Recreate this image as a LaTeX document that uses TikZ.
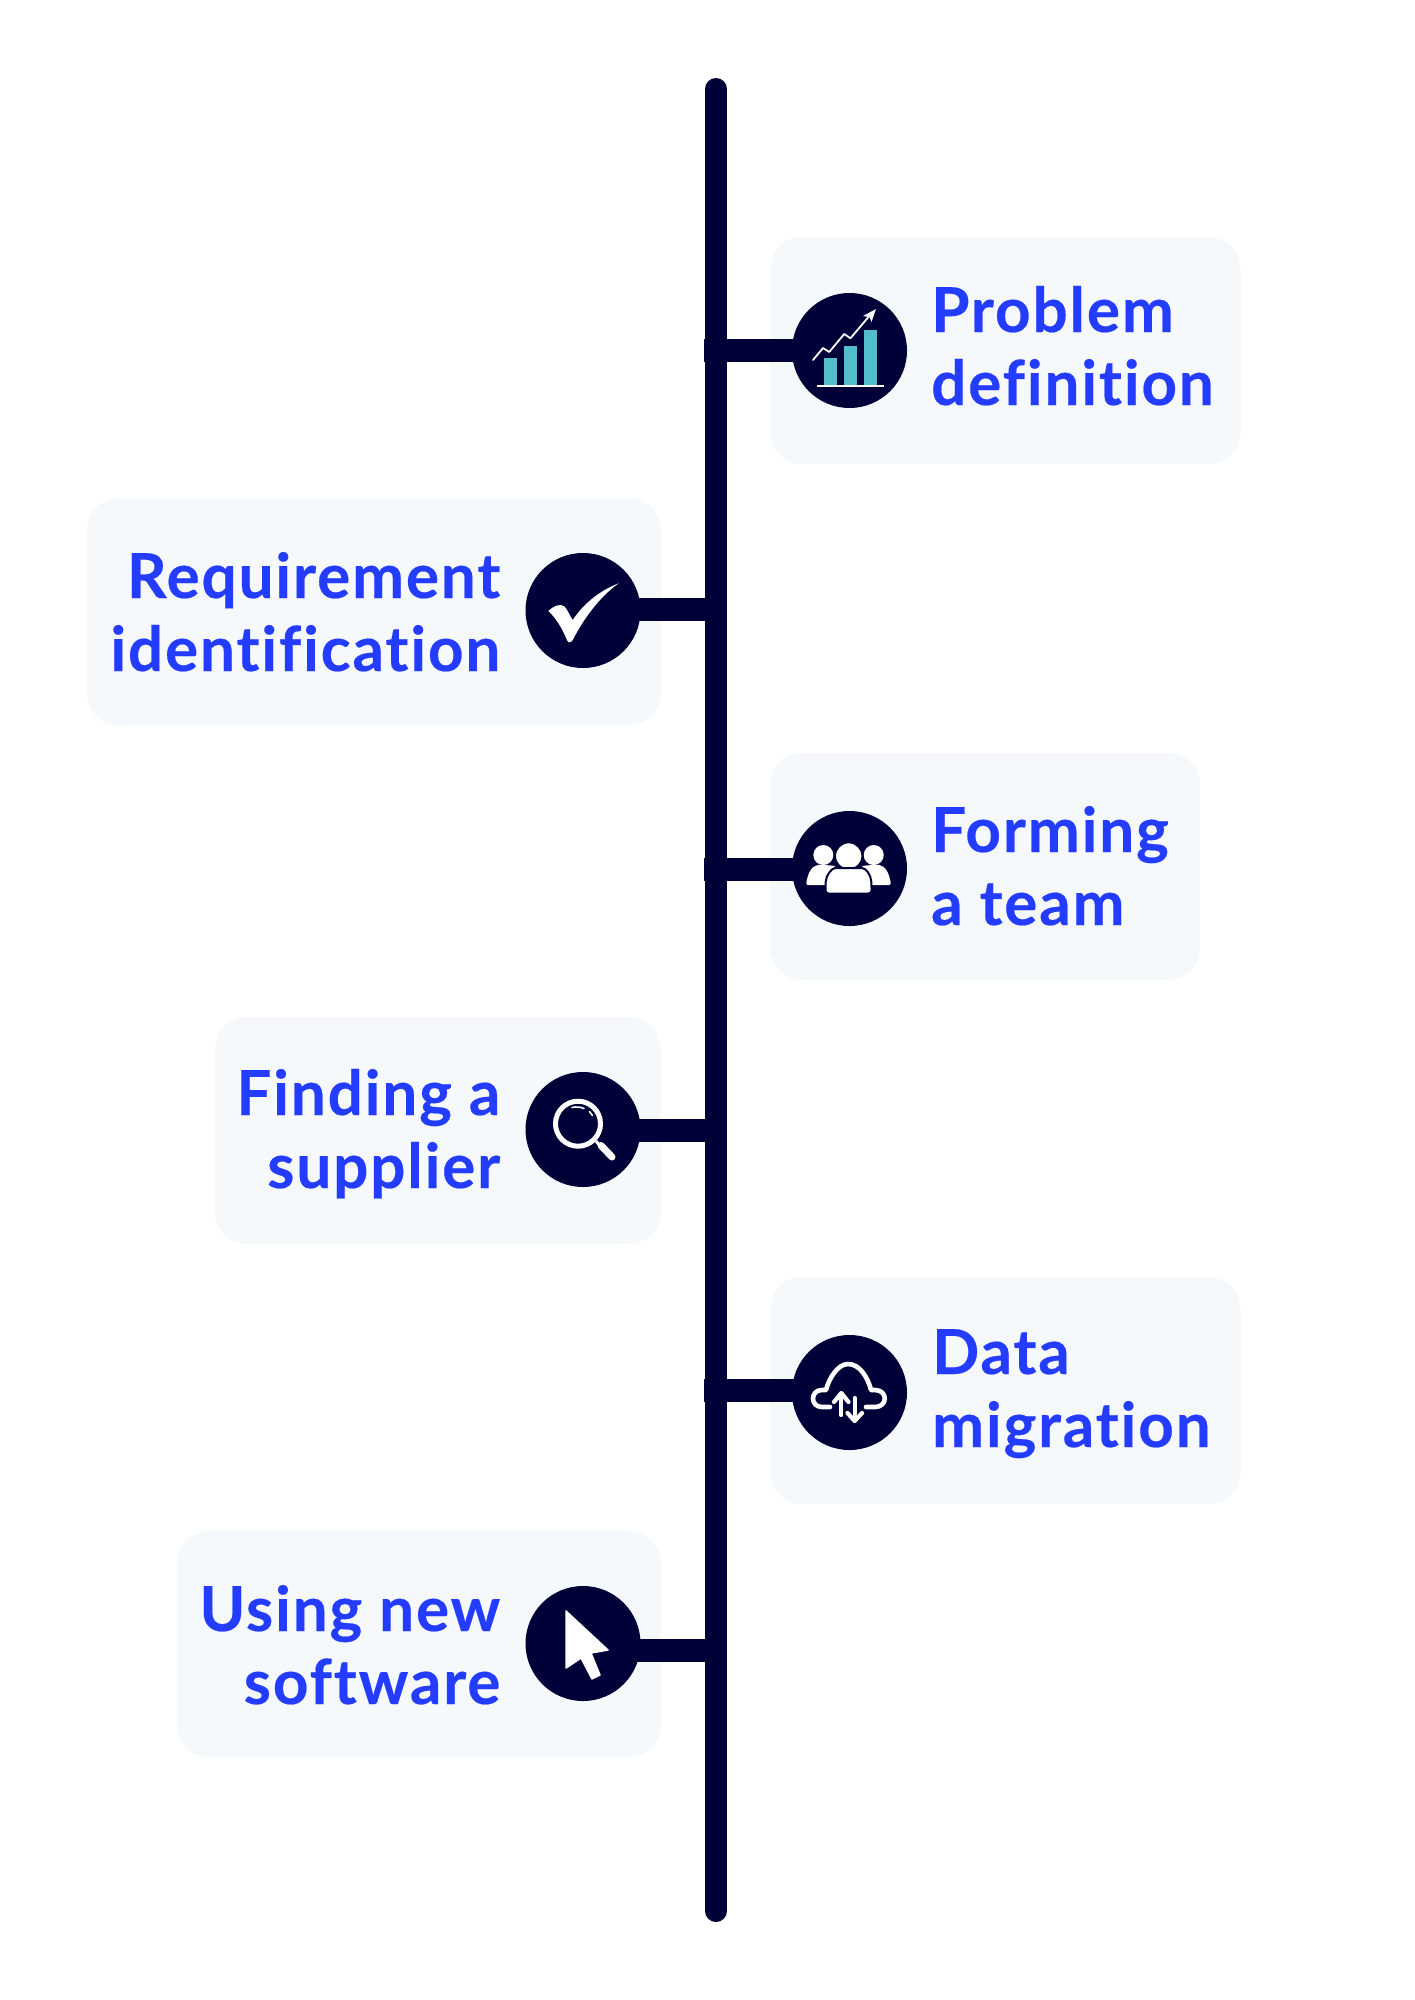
\documentclass[tikz,border=0pt]{standalone}
\usepackage{fontspec}
\setmainfont{Lato}[UprightFont=* Bold,BoldFont=* Black,LetterSpace=3,Ligatures=NoCommon,FakeBold=0.3]
\definecolor{navy}{HTML}{000038}
\definecolor{cardbg}{HTML}{F5F9FC}
\definecolor{blueink}{HTML}{243CFF}
\definecolor{teal}{HTML}{53BDC9}
\tikzset{
  card/.style={fill=cardbg,rounded corners=32pt},
  trunkline/.style={line width=22pt,navy,line cap=round},
  branch/.style={line width=23pt,navy},
  badge/.style={circle,fill=navy,minimum size=115pt,inner sep=0pt},
  labeltext/.style={font=\fontsize{62}{73}\selectfont,text=blueink,inner sep=0pt},
  iconline/.style={white,line cap=round,line join=round},
}
\begin{document}
\begin{tikzpicture}[x=1pt,y=-1pt]
\useasboundingbox[fill=white] (0,0) rectangle (1414,2000);
% cards
\fill[card] (770,237) rectangle (1240.5,464);
\fill[card] (87,498) rectangle (661,725);
\fill[card] (770,753) rectangle (1200,980);
\fill[card] (215,1017) rectangle (661,1244);
\fill[card] (770,1277) rectangle (1240.5,1504);
\fill[card] (177,1531) rectangle (661,1757);
% trunk
\coordinate (ttop) at (716,89);
\coordinate (tbot) at (716,1911);
\draw[trunkline] (ttop) -- (tbot);
% badges
\node[badge] (c1) at (849.5,350.5) {};
\node[badge] (c2) at (583,610.5) {};
\node[badge] (c3) at (849.5,868.5) {};
\node[badge] (c4) at (583,1129.5) {};
\node[badge] (c5) at (849.5,1392.5) {};
\node[badge] (c6) at (583,1643.5) {};
% branches
\coordinate (j1) at (704.3,350);
\coordinate (j2) at (710,609.5);
\coordinate (j3) at (704.3,869.5);
\coordinate (j4) at (710,1130);
\coordinate (j5) at (704.3,1390.5);
\coordinate (j6) at (710,1650.5);
\draw[branch] (j1) -- (j1 -| c1);
\draw[branch] (j2) -- (j2 -| c2);
\draw[branch] (j3) -- (j3 -| c3);
\draw[branch] (j4) -- (j4 -| c4);
\draw[branch] (j5) -- (j5 -| c5);
\draw[branch] (j6) -- (j6 -| c6);
% labels
\node[labeltext,anchor=base west,align=left] (t1) at (931,405) {Problem\\definition};
\node[labeltext,anchor=base east,align=right] (t2) at (500.5,671) {Requirement\\identification};
\node[labeltext,anchor=base west,align=left] (t3) at (931,925) {Forming\\a team};
\node[labeltext,anchor=base east,align=right] (t4) at (500.5,1188) {Finding a\\supplier};
\node[labeltext,anchor=base west,align=left] (t5) at (932,1447) {Data\\migration};
\node[labeltext,anchor=base east,align=right] (t6) at (500.5,1704) {Using new\\software};
% icon 1: chart
\fill[teal] (824.2,358.3) rectangle (837.3,385);
\fill[teal] (844.2,346) rectangle (857.3,385);
\fill[teal] (863.8,330) rectangle (877,385);
\fill[white] (816.5,385) rectangle (883.8,387);
\draw[iconline,line width=1.8pt] (813,360) -- (823,348) -- (829.2,352) -- (844.2,334) -- (850.4,338.3) -- (871,314);
\fill[white] (876,309) -- (863,316) -- (869.5,317) -- (871.5,322) -- cycle;
% icon 2: check
\fill[white] (548.3,611) .. controls (553,606) and (561,603) .. (564.5,606.5)
  .. controls (567,609) and (569.5,615) .. (572.7,620)
  .. controls (586,600) and (604,589) .. (618.7,583.3)
  .. controls (599,597) and (583,620) .. (572.7,640)
  .. controls (571,643) and (568,643) .. (567,640)
  .. controls (562,628) and (556,618) .. cycle;
% icon 3: team
\fill[white] (823.3,855) circle (10);
\fill[white] (873.7,855) circle (10);
\fill[white,rounded corners=2pt] (806,885) .. controls (808,872) and (812,866) .. (820,864.5) -- (836,866) -- (840,885) -- cycle;
\fill[white,rounded corners=2pt] (891,885) .. controls (889,872) and (885,866) .. (877,864.5) -- (861,866) -- (857,885) -- cycle;
\draw[fill=white,draw=navy,line width=2pt] (848.7,856) circle (13.7);
\fill[white,draw=navy,line width=2pt,rounded corners=3pt] (825.5,893.5) -- (825.5,885) .. controls (826,875) and (832,868) .. (838,868) -- (859,868) .. controls (866,868) and (871,875) .. (871.5,885) -- (871.5,893.5) -- cycle;
% icon 4: magnifier
\draw[white,line width=5pt] (578,1123.7) circle (22.5);
\draw[white,line width=3pt] (596,1141) -- (601,1147);
\draw[iconline,line width=7pt] (601,1145.5) -- (612,1157);
\draw[iconline,line width=1.6pt] (572,1107.5) .. controls (576,1106.5) and (581,1107) .. (584,1108.5);
\draw[iconline,line width=1.6pt] (589.5,1111.5) -- (592.5,1115.5);
% icon 5: cloud
\draw[iconline,line width=4.6pt] (830,1407) -- (822,1407) .. controls (810,1407) and (810,1390) .. (822,1390) -- (826,1390)
  .. controls (829,1378) and (838,1364) .. (848,1364) .. controls (860,1364) and (868,1378) .. (871,1390)
  -- (875,1390) .. controls (888,1390) and (888,1407) .. (875,1407) -- (866,1407);
\draw[iconline,line width=4.2pt] (841.3,1415) -- (841.3,1394);
\draw[iconline,line width=4.2pt] (834,1402) -- (841.3,1393) -- (848.5,1402);
\draw[iconline,line width=4.2pt] (854.7,1398) -- (854.7,1420);
\draw[iconline,line width=4.2pt] (847.5,1413) -- (854.7,1421) -- (862,1413);
% icon 6: cursor
\fill[white,draw=white,line width=1.5pt,line join=round] (566,1611) -- (608,1650) -- (591,1653) -- (600,1675) -- (592,1679) -- (581,1658) -- (566,1668) -- cycle;
\end{tikzpicture}
\end{document}
